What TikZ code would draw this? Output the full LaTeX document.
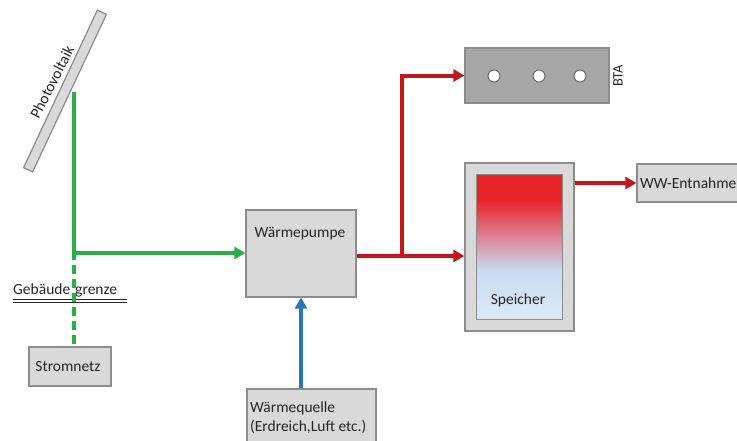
\documentclass[tikz,border=0pt]{standalone}
\usepackage{fontspec}
\setmainfont{Carlito}
\usetikzlibrary{arrows.meta,calc}
\definecolor{boxfill}{HTML}{D9D9D9}
\definecolor{boxdraw}{HTML}{8C8C8C}
\definecolor{btafill}{HTML}{A6A6A6}
\definecolor{gline}{HTML}{2BAE4A}
\definecolor{rline}{HTML}{C0171D}
\definecolor{bline}{HTML}{2E75B6}
\definecolor{sred}{HTML}{E8232A}
\definecolor{spink}{HTML}{DC8596}
\definecolor{sblue}{HTML}{C8DBEF}
\definecolor{sblue2}{HTML}{DCE8F5}
\pgfdeclareverticalshading{speichershade}{100bp}{color(0bp)=(sblue2); color(25bp)=(sblue2); color(42bp)=(sblue); color(53bp)=(spink); color(66bp)=(sred); color(100bp)=(sred)}
\begin{document}
\begin{tikzpicture}[x=1pt,y=-1pt,font=\fontsize{15.5}{19}\selectfont,
  box/.style={draw=boxdraw,fill=boxfill,line width=1.2pt,inner sep=0pt},
  flow/.style={line width=4pt},
  tip/.style={-{Triangle[length=11pt,width=12pt]}},
  txt/.style={inner sep=0pt,text=black!85},
  hole/.style={circle,draw=black!60,fill=white,line width=0.9pt,minimum size=12pt,inner sep=0pt}]
\useasboundingbox (0,0) rectangle (737,440);
% PV panel
\node[box,rotate=64.9,minimum width=174pt,minimum height=10pt] (pv) at (65,91) {};
\node[txt,rotate=63] (pvtext) at (52,82) {Photovoltaik};
\coordinate (pvout) at (74,92);
\coordinate (jg) at (74,253);
% boxes
\node[box,minimum width=110pt,minimum height=87pt] (wp) at (301,253.5) {};
\node[txt] (wptext) at (300,234) {Wärmepumpe};
\node[box,minimum width=82pt,minimum height=39pt] (sn) at (70,366.5) {};
\node[txt] (sntext) at (68,366.5) {Stromnetz};
\node[box,minimum width=129pt,minimum height=58pt] (wq) at (311.5,418) {};
\node[txt,anchor=west,align=left] (wqtext) at (250,418) {Wärmequelle\\(Erdreich,Luft etc.)};
% BTA
\node[box,fill=btafill,minimum width=144pt,minimum height=55pt] (bta) at (537,75.5) {};
\node[hole] (c1) at (494,76) {};
\node[hole] (c2) at (539,76) {};
\node[hole] (c3) at (580,76) {};
\node[txt,rotate=90,font=\fontsize{14.5}{16}\selectfont] (btatext) at (618,76) {BTA};
% Speicher
\node[box,minimum width=109pt,minimum height=168pt] (sp) at (519.5,247) {};
\node[draw=boxdraw,line width=1pt,shade,shading=speichershade,minimum width=86pt,minimum height=145pt,inner sep=0pt] (spi) at (519,246.5) {};
\node[txt] (sptext) at (518,300) {Speicher};
% WW
\node[box,minimum width=106pt,minimum height=38pt] (ww) at (690,183) {};
\node[txt,anchor=west] (wwtext) at (640,183) {WW-Entnahme};
% Gebaeudegrenze
\node[txt,anchor=base west] (gg) at (13,294) {Gebäude\hspace{5pt}grenze};
\coordinate (ggl) at (13,299);
\coordinate (ggr) at (127,299);
\draw[line width=1pt,black!85] (ggl) -- (ggr);
\draw[line width=1pt,black!85] ($(ggl)+(0,3.2)$) -- ($(ggr)+(0,3.2)$);
% connectors
\draw[flow,gline] (pvout) -- (jg);
\draw[flow,gline,tip] (jg) -- (jg -| wp.west);
\draw[flow,gline,dash pattern=on 9pt off 5pt] ($(jg)+(0,-2)$) -- (jg |- sn.north);
\coordinate (jr) at (402,256);
\draw[flow,rline,tip] (wp.east |- jr) -- (jr -| sp.west);
\draw[flow,rline,tip] ($(jr)+(0,2)$) |- (bta.west);
\draw[flow,rline,tip] (sp.east |- ww.west) -- (ww.west);
\draw[flow,bline,line width=4.5pt,tip] (wp.south |- wq.north) -- (wp.south);
\end{tikzpicture}
\end{document}
